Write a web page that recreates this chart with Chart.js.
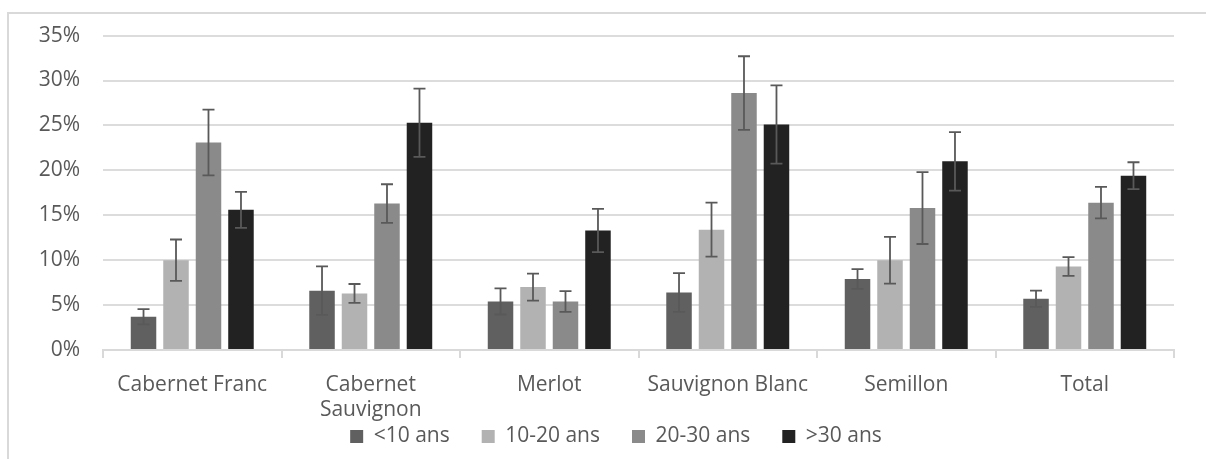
<!DOCTYPE html>
<html>
<head>
<meta charset="utf-8">
<script src="https://cdn.jsdelivr.net/npm/chart.js@4"></script>
<style>
  html, body { margin: 0; padding: 0; background: #fff; overflow: hidden; }
  #frame {
    position: absolute; left: 7px; top: 12px;
    width: 1220px; height: 470px;
    border: 2px solid #d9d9d9; box-sizing: border-box;
  }
  #wrap { position: absolute; left: 0; top: 0; width: 1206px; height: 459px; }
</style>
</head>
<body>
<div id="frame"></div>
<div id="wrap"><canvas id="chart"></canvas></div>
<script>
// categories and series (values in %)
const categories = ["Cabernet Franc", ["Cabernet", "Sauvignon"], "Merlot", "Sauvignon Blanc", "Semillon", "Total"];
const seriesNames = ["<10 ans", "10-20 ans", "20-30 ans", ">30 ans"];
const seriesColors = ["#606060", "#b2b2b2", "#8a8a8a", "#222222"];

const under10 = [3.7, 6.6, 5.4, 6.4, 7.9, 5.7];
const from10to20 = [10.0, 6.3, 7.0, 13.4, 10.0, 9.3];
const from20to30 = [23.1, 16.3, 5.4, 28.6, 15.8, 16.4];
const over30 = [15.6, 25.3, 13.3, 25.1, 21.0, 19.4];

// error bar half-lengths (%)
const errUnder10 = [0.85, 2.7, 1.45, 2.15, 1.1, 0.9];
const err10to20 = [2.3, 1.05, 1.5, 3.0, 2.6, 1.05];
const err20to30 = [3.65, 2.15, 1.15, 4.1, 4.0, 1.75];
const errOver30 = [2.0, 3.8, 2.4, 4.35, 3.25, 1.5];

const yMin = 0;
const yMax = 35;
const yStep = 5;

const seriesValues = [under10, from10to20, from20to30, over30];
const seriesErrors = [errUnder10, err10to20, err20to30, errOver30];

Chart.defaults.font.family = "'Open Sans', sans-serif";
Chart.defaults.font.size = 21;
Chart.defaults.color = "#595959";

// draws the error bars on top of each bar
const errorBars = {
  id: "errorBars",
  afterDatasetsDraw(chart) {
    const ctx = chart.ctx;
    const y = chart.scales.y;
    ctx.save();
    ctx.strokeStyle = "#595959";
    ctx.lineWidth = 1.8;
    chart.data.datasets.forEach((ds, i) => {
      const meta = chart.getDatasetMeta(i);
      meta.data.forEach((bar, j) => {
        const v = ds.data[j];
        const e = seriesErrors[i][j];
        const top = y.getPixelForValue(v + e);
        const bot = y.getPixelForValue(v - e);
        const cap = 6;
        ctx.beginPath();
        ctx.moveTo(bar.x, top);
        ctx.lineTo(bar.x, bot);
        ctx.moveTo(bar.x - cap, top);
        ctx.lineTo(bar.x + cap, top);
        ctx.moveTo(bar.x - cap, bot);
        ctx.lineTo(bar.x + cap, bot);
        ctx.stroke();
      });
    });
    ctx.restore();
  }
};

// legend sits tight under the two-line tick labels, move it a bit
const legendShift = {
  id: "legendShift",
  afterLayout(chart) {
    const lg = chart.legend;
    if (!lg) return;
    lg.top = 394;
    lg.bottom = 459;
    lg.height = lg.bottom - lg.top;
    lg.left += 29;
    lg.right += 29;
  }
};

new Chart(document.getElementById("chart"), {
  type: "bar",
  data: {
    labels: categories,
    datasets: seriesNames.map((name, i) => ({
      label: name,
      data: seriesValues[i],
      backgroundColor: seriesColors[i],
      borderWidth: 0,
      barPercentage: 0.785,
      categoryPercentage: 0.728
    }))
  },
  options: {
    responsive: true,
    maintainAspectRatio: false,
    animation: false,
    layout: {
      padding: { left: 0, right: 32, top: 35, bottom: 0 }
    },
    plugins: {
      tooltip: { enabled: false },
      legend: {
        position: "bottom",
        maxHeight: 30,
        labels: {
          boxWidth: 13,
          boxHeight: 13,
          padding: 32,
          color: "#595959",
          font: { size: 21 }
        }
      }
    },
    scales: {
      x: {
        afterFit: s => { s.height = 79; },
        grid: {
          drawOnChartArea: false,
          drawTicks: true,
          tickLength: 8,
          color: "#d9d9d9",
          lineWidth: 2
        },
        border: { color: "#d9d9d9", width: 2 },
        ticks: { padding: 14, color: "#595959", maxRotation: 0, autoSkip: false, font: { lineHeight: 1.2 } }
      },
      y: {
        min: yMin,
        max: yMax,
        afterFit: s => { s.width = 103; },
        grid: { color: "#dcdcdc", lineWidth: 2, drawTicks: false },
        border: { display: false },
        ticks: {
          stepSize: yStep,
          padding: 23,
          color: "#595959",
          callback: v => v + "%"
        }
      }
    }
  },
  plugins: [errorBars, legendShift]
});
</script>
</body>
</html>
